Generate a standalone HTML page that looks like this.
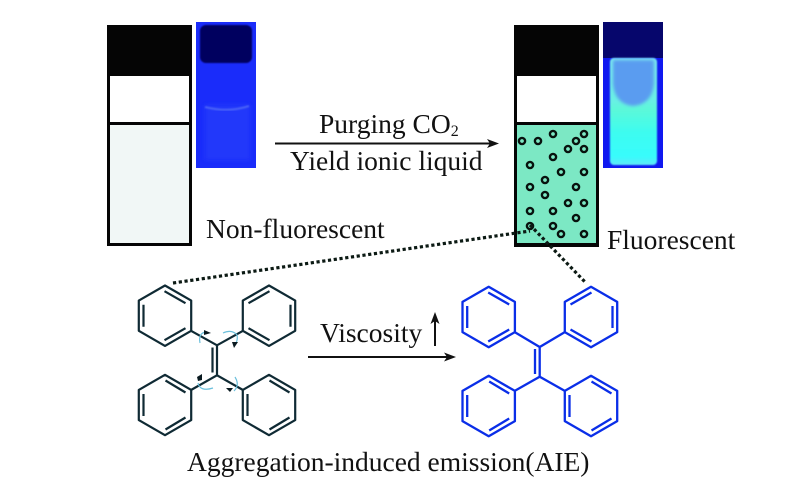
<!DOCTYPE html>
<html><head><meta charset="utf-8"><style>
html,body{margin:0;padding:0;background:#fff}
svg{display:block}
text{font-family:"Liberation Serif",serif;fill:#111;font-size:27.5px}
</style></head><body>
<svg width="800" height="491" viewBox="0 0 800 491" xmlns="http://www.w3.org/2000/svg">
<defs>
<filter id="b05" x="-30%" y="-30%" width="160%" height="160%"><feGaussianBlur stdDeviation=".8"/></filter>
<filter id="b1" x="-30%" y="-30%" width="160%" height="160%"><feGaussianBlur stdDeviation="1.6"/></filter>
<filter id="b2" x="-30%" y="-30%" width="160%" height="160%"><feGaussianBlur stdDeviation="2.5"/></filter>
<linearGradient id="g1" x1="0" y1="0" x2="0" y2="1"><stop offset="0" stop-color="#7cecf0"/><stop offset=".4" stop-color="#68f0e4"/><stop offset=".48" stop-color="#5cf8d8"/><stop offset=".7" stop-color="#3cfcf0"/><stop offset=".92" stop-color="#38fcfc"/><stop offset="1" stop-color="#60e8f8"/></linearGradient>
<g id="ring" fill="none" stroke-linejoin="round">
<polygon points="0,-30.2 26.2,-15.1 26.2,15.1 0,30.2 -26.2,15.1 -26.2,-15.1"/>
</g>
<g id="ul"><use href="#ring"/><path fill="none" d="M-21.5,-11V11M-.5,-24.5L20.5,-12.5M-.5,24.5L20.5,12.5"/></g>
<g id="ur"><use href="#ring"/><path fill="none" d="M21.5,-11V11M.5,-24.5L-20.5,-12.5M.5,24.5L-20.5,12.5"/></g>
<g id="ml"><use href="#ring"/><path fill="none" d="M-21.5,-11V11M.5,-24.5L20.5,-12.5M.5,24.5L20.5,12.5"/></g>
<g id="dot"><circle r="3.1" fill="none" stroke="#08120e" stroke-width="2.4"/></g>
</defs>

<!-- left vial -->
<rect x="107" y="25" width="85" height="221" fill="#050505"/>
<rect x="110" y="76" width="79" height="46" fill="#fff"/>
<rect x="110" y="125" width="79" height="118" fill="#f1f7f6"/>

<!-- left photo -->
<rect x="196" y="22" width="60" height="146" fill="#1a2cfa"/>
<rect x="200" y="25" width="52" height="38" rx="6" fill="#03035e" filter="url(#b05)"/>
<rect x="205" y="105" width="45" height="55" fill="#2238fa" filter="url(#b2)"/>
<path d="M205,107Q228,113 249,106" fill="none" stroke="#4a62f8" stroke-width="2" filter="url(#b05)"/>

<!-- right vial -->
<rect x="514" y="25" width="85" height="222" fill="#050505"/>
<rect x="517" y="76" width="79" height="46" fill="#fff"/>
<rect x="517" y="125" width="79" height="118" fill="#7ce8c4"/>
<g>
<use href="#dot" x="522" y="141"/><use href="#dot" x="538" y="141"/><use href="#dot" x="553" y="134"/><use href="#dot" x="584" y="134"/><use href="#dot" x="576" y="141"/><use href="#dot" x="568" y="149"/><use href="#dot" x="584" y="149"/><use href="#dot" x="553" y="157"/><use href="#dot" x="530" y="165"/><use href="#dot" x="561" y="172"/><use href="#dot" x="584" y="172"/><use href="#dot" x="545" y="180"/><use href="#dot" x="530" y="187"/><use href="#dot" x="576" y="187"/><use href="#dot" x="545" y="195"/><use href="#dot" x="568" y="203"/><use href="#dot" x="584" y="203"/><use href="#dot" x="530" y="211"/><use href="#dot" x="553" y="211"/><use href="#dot" x="576" y="218"/><use href="#dot" x="530" y="226"/><use href="#dot" x="553" y="226"/><use href="#dot" x="561" y="234"/><use href="#dot" x="584" y="234"/>
</g>

<!-- right photo -->
<rect x="603" y="22" width="60" height="146" fill="#1018f0"/>
<rect x="603" y="22" width="60" height="36" fill="#06066c"/>
<rect x="610" y="58" width="47" height="107" rx="4" fill="url(#g1)" filter="url(#b05)"/>
<path d="M613,60H654V84Q652,104 633,106Q615,104 613,84Z" fill="#5a9cf0" filter="url(#b1)"/>

<!-- top arrow -->
<text x="319" y="133">Purging CO<tspan font-size="16" dy="3">2</tspan></text>
<line x1="275" y1="143.5" x2="492" y2="143.5" stroke="#111" stroke-width="2"/>
<polygon points="499,143.5 487,139 490,143.5 487,148" fill="#111"/>
<text x="290" y="170">Yield ionic liquid</text>
<text x="206" y="238">Non-fluorescent</text>
<text x="607" y="249">Fluorescent</text>

<!-- dotted -->
<path d="M173,283L530,231" stroke="#0c1a14" stroke-width="3.2" stroke-dasharray="3.2 2.6" fill="none"/>
<path d="M530,225L586,283" stroke="#0c1a14" stroke-width="3.2" stroke-dasharray="3.2 2.6" fill="none"/>

<!-- left molecule -->
<g stroke="#0f2a34" stroke-width="2.2" fill="none">
<use href="#ul" x="165" y="315.7"/><use href="#ur" x="269" y="315.7"/>
<use href="#ml" x="165" y="405"/><use href="#ml" x="269" y="405"/>
<path d="M191,330.8L217,345.3L243,330.8M191,390L217,375.3L243,390M217,345.3V375.3M212.5,347.5V372.5"/>
</g>
<g fill="none" stroke="#6cc0dc" stroke-width="1.2">
<path d="M200,343Q198,333 206,332"/><path d="M223,333Q232,329 237,335Q238,339 236,343"/><path d="M198,383Q200,392 213,388"/><path d="M235,377Q240,385 234,391"/>
</g>
<g fill="#0a1a20"><path d="M204,330l7,3l-7,2z"/><path d="M232,342l6,0l-4,6z"/><path d="M198,381l4,-1l0,-6l-5,3z"/><path d="M226,388l7,0l-3,4z"/></g>

<!-- right molecule -->
<g stroke="#0a2ee8" stroke-width="2.3" fill="none">
<use href="#ul" x="488.7" y="317"/><use href="#ur" x="591" y="317"/>
<use href="#ml" x="488.7" y="406"/><use href="#ml" x="591" y="406"/>
<path d="M514.5,332L539.7,347L565,332M514.5,391L539.7,376.7L565,391M539.7,347V376.7M535,349V374"/>
</g>

<!-- middle arrow -->
<text x="320" y="342">Viscosity</text>
<line x1="308" y1="357" x2="450" y2="357" stroke="#111" stroke-width="2"/>
<polygon points="456,357 444,352.5 447,357 444,361.5" fill="#111"/>
<line x1="435" y1="346" x2="435" y2="318" stroke="#111" stroke-width="2"/>
<polygon points="435,312 430.5,324 435,321 439.5,324" fill="#111"/>

<text x="187" y="471">Aggregation-induced emission(AIE)</text>
</svg>
</body></html>
